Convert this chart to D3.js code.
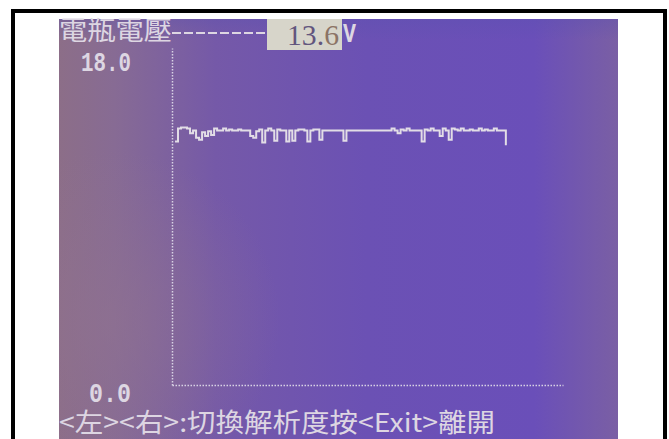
<!DOCTYPE html>
<html>
<head>
  <meta charset="utf-8">
  <script src="https://cdn.jsdelivr.net/npm/d3@7"></script>
  <style>
    *{
      margin: 0px 0px;
      padding: 0px 0px;
    }
    body{
      background-color: white;
    }
    .lcd{
      fill: #ddd6e2;
    }
    .axis path{
      fill: none;
      stroke: #d8d2e4;
      stroke-width: 1.5;
      stroke-dasharray: 1.5,1.5;
    }
    .axis text{
      fill: #ddd6e2;
      font-family: "Liberation Mono", monospace;
      font-weight: bold;
      font-size: 27px;
    }
  </style>
</head>
<body>
  <script type="text/javascript">
    // data
    var title = "電瓶電壓";
    var currentValue = "13.6";
    var unit = "V";
    var yDomain = [0, 18];
    var yTicks = [0, 18];
    var footer = "<左><右>:切換解析度按<Exit>離開";
    // battery voltage samples (V), one per screen step
    var voltage = [
      13.0, 13.7, 13.75, 13.75, 13.7, 13.45, 13.6, 13.2, 13.1, 13.5,
      13.3, 13.55, 13.35, 13.7, 13.6, 13.6, 13.7, 13.6, 13.65, 13.6,
      13.6, 13.65, 13.6, 13.6, 13.6, 13.3, 13.2, 13.55, 13.65, 12.95,
      13.6, 13.7, 13.6, 13.05, 13.65, 13.6, 13.6, 13.0, 13.6, 13.05,
      13.6, 13.65, 13.65, 13.6, 13.0, 13.6, 13.65, 13.65, 13.1, 13.6,
      13.6, 13.6, 13.6, 13.6, 13.6, 13.6, 13.05, 13.6, 13.6, 13.6,
      13.6, 13.6, 13.6, 13.6, 13.6, 13.6, 13.6, 13.6, 13.6, 13.6,
      13.6, 13.6, 13.7, 13.6, 13.45, 13.65, 13.6, 13.7, 13.6, 13.6,
      13.6, 13.6, 13.0, 13.65, 13.6, 13.7, 13.6, 13.6, 13.3, 13.7,
      13.6, 13.1, 13.7, 13.65, 13.6, 13.7, 13.6, 13.6, 13.65, 13.6,
      13.6, 13.7, 13.6, 13.65, 13.6, 13.6, 13.7, 13.6, 13.6, 13.6,
      12.8
    ];
    var bufferSize = 130; // samples that fit across the screen

    var w = 669;
    var h = 439;

    var svg = d3.select("body").append("svg")
      .attr("width", w)
      .attr("height", h);

    // purple LCD background
    var defs = svg.append("defs");
    var grad = defs.append("linearGradient").attr("id", "lcd");
    [["0%", "#8c6e88"], ["10%", "#876b94"], ["28%", "#7559a8"],
     ["55%", "#6b51b4"], ["85%", "#6a4fb9"], ["100%", "#7a5fa4"]]
      .forEach(function(s) {
        grad.append("stop").attr("offset", s[0]).attr("stop-color", s[1]);
      });
    var glow = defs.append("radialGradient").attr("id", "glow")
      .attr("gradientUnits", "userSpaceOnUse")
      .attr("cx", 110).attr("cy", 320).attr("r", 170);
    glow.append("stop").attr("offset", "0%").attr("stop-color", "#907290").attr("stop-opacity", 0.6);
    glow.append("stop").attr("offset", "100%").attr("stop-color", "#907290").attr("stop-opacity", 0);
    var shade = defs.append("linearGradient").attr("id", "shade")
      .attr("x1", 0).attr("x2", 0).attr("y1", 0).attr("y2", 1);
    shade.append("stop").attr("offset", "0%").attr("stop-color", "#5a50b0").attr("stop-opacity", 0.35);
    shade.append("stop").attr("offset", "5%").attr("stop-color", "#5a50b0").attr("stop-opacity", 0);
    shade.append("stop").attr("offset", "100%").attr("stop-color", "#5a50b0").attr("stop-opacity", 0);

    ["url(#lcd)", "url(#glow)", "url(#shade)"].forEach(function(f) {
      svg.append("rect")
        .attr("x", 59).attr("y", 19)
        .attr("width", 559).attr("height", 430)
        .attr("fill", f);
    });

    // black frame round the photo
    svg.append("rect")
      .attr("x", 13).attr("y", 11)
      .attr("width", 652).attr("height", 460)
      .attr("fill", "none")
      .attr("stroke", "black")
      .attr("stroke-width", 4);

    // scales
    var yScale = d3.scaleLinear()
      .domain(yDomain)
      .range([385, 48]);

    var xScale = d3.scaleLinear()
      .domain([0, bufferSize])
      .range([172, 563]);

    // y axis: dotted line, labels below each end
    var yAxis = svg.append("g")
      .attr("class", "axis")
      .attr("transform", "translate(172,0)")
      .call(d3.axisLeft(yScale)
        .tickValues(yTicks)
        .tickSize(0)
        .tickSizeOuter(0)
        .tickPadding(41)
        .tickFormat(d3.format(".1f")));
    yAxis.selectAll("text")
      .attr("dy", function(d) { return d == 0 ? "0.6em" : "0.82em"; })
      .attr("font-size", function(d) { return d == 0 ? "25px" : null; })
      .attr("textLength", function(d) { return d == 0 ? 42 : 50; })
      .attr("lengthAdjust", "spacingAndGlyphs");

    // x axis: dotted line only
    svg.append("g")
      .attr("class", "axis")
      .attr("transform", "translate(0,385)")
      .call(d3.axisBottom(xScale).tickValues([]).tickSizeOuter(0));

    // voltage trace
    var line = d3.line()
      .x(function(d, i) { return xScale(i + 1); })
      .y(function(d) { return yScale(d); })
      .curve(d3.curveStepAfter);

    svg.append("path")
      .datum(voltage)
      .attr("fill", "none")
      .attr("stroke", "#e2dde6")
      .attr("stroke-width", 2)
      .attr("d", line);

    // header
    svg.append("text")
      .attr("class", "lcd")
      .attr("x", 59).attr("y", 40)
      .attr("font-family", "Noto Sans CJK TC")
      .attr("font-size", 26)
      .attr("textLength", 113)
      .attr("lengthAdjust", "spacingAndGlyphs")
      .text(title);

    svg.append("line")
      .attr("x1", 172).attr("x2", 267)
      .attr("y1", 33).attr("y2", 33)
      .attr("stroke", "#ddd6e2")
      .attr("stroke-width", 2)
      .attr("stroke-dasharray", "9,3");

    svg.append("rect")
      .attr("x", 267).attr("y", 19)
      .attr("width", 75).attr("height", 31)
      .attr("fill", "#d7d5ca");

    var val = svg.append("text")
      .attr("x", 287).attr("y", 45)
      .attr("font-family", "Liberation Serif")
      .attr("font-size", 30)
      .attr("textLength", 52)
      .attr("lengthAdjust", "spacingAndGlyphs")
      .attr("fill", "#62557e");
    val.append("tspan").text(currentValue.slice(0, -1));
    val.append("tspan").attr("fill", "#8c7466").text(currentValue.slice(-1));

    svg.append("text")
      .attr("class", "lcd")
      .attr("x", 343).attr("y", 42)
      .attr("font-family", "Liberation Mono")
      .attr("font-weight", "bold")
      .attr("font-size", 27)
      .attr("textLength", 13)
      .attr("lengthAdjust", "spacingAndGlyphs")
      .text(unit);

    // footer hint
    svg.append("text")
      .attr("class", "lcd")
      .attr("x", 59).attr("y", 432)
      .attr("font-family", "Noto Sans CJK TC")
      .attr("font-size", 26)
      .attr("textLength", 436)
      .attr("lengthAdjust", "spacingAndGlyphs")
      .text(footer);
  </script>
</body>
</html>
